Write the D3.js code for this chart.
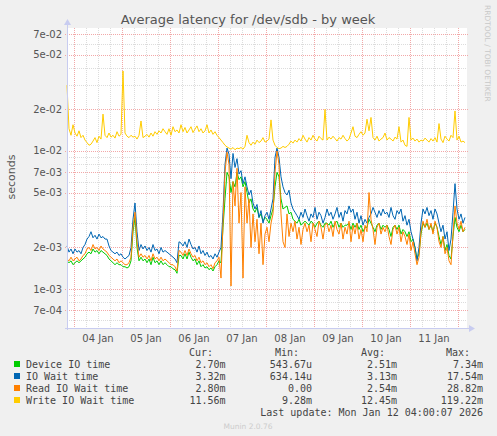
<!DOCTYPE html>
<html><head><meta charset="utf-8">
<script src="https://cdn.jsdelivr.net/npm/d3@7"></script>
<style>
html,body{margin:0;padding:0;background:#F0F0F0;}
svg{display:block;}
</style></head>
<body>
<script>
// ---------- data (milliseconds, one point per hour from 03 Jan 20:30 UTC) ----------
const startTime = Date.UTC(2026, 0, 3, 20, 30);
const endTime = Date.UTC(2026, 0, 12, 4, 30);

const deviceIoMs = [
1.6,1.55,1.6,1.5,1.55,1.6,1.55,1.6,1.65,1.7,
1.8,1.85,1.8,1.95,1.85,1.9,1.8,1.9,1.85,1.8,
1.75,1.65,1.6,1.55,1.5,1.55,1.5,1.5,1.45,1.45,
1.42,1.45,1.6,2.6,3.3,2.0,1.6,1.7,1.6,1.65,
1.55,1.65,1.5,1.7,1.55,1.6,1.5,1.6,1.5,1.55,
1.5,1.45,1.45,1.4,1.38,1.3,1.75,1.75,1.65,1.8,
1.65,1.85,1.7,1.6,1.65,1.5,1.6,1.45,1.5,1.42,
1.45,1.38,1.42,1.35,1.45,1.5,1.6,1.55,2.8,4.5,
7.0,6.5,5.0,6.0,5.5,7.0,6.2,6.5,5.5,6.0,
5.0,4.2,4.5,3.8,3.6,3.9,3.3,3.5,3.1,3.3,
3.2,3.0,3.4,3.8,5.5,7.0,6.5,4.5,3.8,3.9,
4.0,3.5,3.6,3.2,3.1,3.0,3.2,2.9,3.0,3.1,
3.0,2.9,3.1,3.0,2.8,3.0,3.1,2.9,2.8,3.0,
3.0,2.9,3.1,2.8,3.0,3.1,2.8,3.0,2.8,2.9,
2.9,3.0,2.7,3.0,2.8,3.0,2.7,2.9,2.6,2.8,
2.8,3.2,3.0,2.8,2.6,2.9,3.0,2.7,2.9,2.8,
2.9,2.7,2.4,2.8,2.9,2.7,2.9,2.5,2.7,2.6,
2.4,2.6,2.2,2.3,2.0,1.65,1.8,2.5,3.0,2.8,
3.0,2.7,2.9,2.6,3.0,2.8,2.4,2.1,2.4,1.9,
2.1,1.75,1.65,2.4,3.3,2.8,2.6,2.9,2.6,2.7];

const ioWaitMs = [
2.05,1.85,1.95,1.8,1.95,1.85,1.9,1.8,2.0,2.1,
2.3,2.4,2.6,2.35,2.45,2.3,2.5,2.35,2.4,2.3,
2.3,2.05,1.9,1.85,1.8,1.85,1.75,1.8,1.7,1.65,
1.7,1.75,2.0,3.2,4.2,2.6,1.9,2.1,1.95,2.05,
1.9,2.0,1.85,2.1,1.9,1.95,1.8,2.0,1.85,1.9,
1.85,1.8,1.75,1.7,1.65,1.55,2.2,2.15,2.05,2.2,
2.0,2.3,2.1,1.95,2.0,1.85,2.05,1.8,1.9,1.75,
1.85,1.7,1.75,1.65,1.8,1.7,1.85,2.0,3.6,8.0,
10.5,9.5,6.3,9.6,7.6,8.8,6.8,7.2,5.8,6.5,
5.5,4.8,5.2,4.2,3.8,4.1,3.3,3.7,3.0,3.4,
3.6,3.2,3.8,4.5,9.0,10.5,9.0,6.5,5.5,5.0,
4.8,5.2,4.2,3.8,3.6,3.4,3.2,3.6,3.3,3.8,
3.4,3.1,3.5,3.3,3.9,3.2,3.6,3.4,3.0,3.3,
3.8,3.4,3.6,3.2,3.5,3.9,3.3,3.6,3.1,3.7,
3.5,4.0,3.6,3.8,3.2,3.6,3.0,3.4,2.9,3.2,
3.0,3.3,3.5,3.9,3.6,3.3,3.7,3.4,3.8,3.5,
3.6,3.3,3.9,3.4,3.2,3.7,3.5,3.8,3.1,3.4,
2.9,3.2,2.6,2.3,2.0,1.6,2.0,3.0,3.8,3.5,
3.9,3.4,3.7,3.2,3.8,3.5,3.0,2.6,2.9,2.3,
2.6,1.9,2.3,3.6,5.8,3.8,3.2,3.5,3.0,3.3];

const readWaitMs = [
1.65,1.6,1.7,1.6,1.65,1.7,1.6,1.65,1.75,1.8,
1.95,2.0,1.9,2.1,1.95,2.0,1.9,2.05,1.95,1.9,
1.85,1.75,1.7,1.65,1.6,1.65,1.55,1.6,1.55,1.5,
1.5,1.55,1.7,2.8,3.6,2.2,1.7,1.8,1.7,1.75,
1.65,1.75,1.6,1.8,1.65,1.7,1.6,1.7,1.6,1.65,
1.6,1.55,1.5,1.5,1.45,1.35,1.9,1.85,1.75,1.9,
1.75,1.95,1.8,1.7,1.75,1.6,1.7,1.55,1.6,1.5,
1.55,1.45,1.5,1.4,1.55,1.6,1.7,1.2,3.0,7.0,
9.8,8.0,1.05,6.0,4.0,7.5,3.0,5.0,1.2,5.5,
3.0,4.5,2.0,3.5,2.2,3.2,1.8,3.0,1.5,2.5,
2.8,2.2,3.0,3.5,7.0,10.0,8.0,3.5,2.2,2.0,
3.5,2.4,3.0,2.6,3.1,2.3,2.8,2.1,2.7,3.0,
2.6,2.9,2.2,3.0,2.7,2.4,3.1,2.8,2.3,2.9,
3.0,2.6,2.9,2.4,3.1,2.7,2.5,3.0,2.3,2.8,
2.5,3.1,2.2,2.9,2.5,3.0,2.3,2.7,2.2,2.9,
2.6,5.0,3.2,2.7,2.1,2.8,3.0,2.5,2.8,2.6,
2.9,2.4,2.1,2.7,2.9,2.5,2.8,2.2,2.6,2.4,
2.1,2.5,1.9,2.2,1.8,1.5,1.7,2.6,3.1,2.8,
3.2,2.7,3.0,2.5,3.1,2.8,2.2,2.0,2.4,1.8,
2.0,1.6,1.5,2.5,4.0,3.0,2.7,3.1,2.6,2.8];

const writeWaitMs = [
30,14.5,13,15.5,13.5,12.8,14,12.5,13,12,
11.5,11,11.2,11.8,12.5,11.5,12.8,12.2,18.5,13,
12.5,13.5,12.6,13,12.4,13.8,12.8,13.2,38,13.5,
12.8,12.5,13,12.6,12.8,12.2,13,16.5,12.5,12.8,
13.2,12.6,13.5,12.8,13.8,13.2,14,13.5,14.5,13.8,
13.2,14.5,13,15,13.8,14.2,13.5,15.5,13.8,14.8,
13.5,14.2,15,13.6,14.4,15.2,13.8,14.5,13.5,14,
15.5,13.5,14.2,13.2,13.8,13,12.5,12,11.5,11,
10.7,10.5,10.3,10.6,10.2,10.5,10.4,10.6,10.3,10.8,
13,11.5,11,11.6,11.2,12,11.5,11.8,12.5,11.6,
11.8,12.2,16.8,12,11,10.6,10.4,10.5,10.8,10.6,
10.8,11.2,11.8,11.4,12,11.6,12.3,11.8,13,12.2,
11.6,12.5,12,13,12.2,11.8,12.8,12.3,12,20,
12,12.6,12.2,12.8,12.3,11.8,12.5,12.2,13,12.3,
11.8,12.2,13.5,15,12.8,12.5,13.2,13.8,13,13.5,
17,14,17.5,12.5,12,12.8,11.8,12.2,12.5,13.5,
12,12.5,12.2,11.8,12.6,12.2,15,11.6,12,11,
10.8,17.5,12,12.4,11.8,12.2,11.6,12,11.8,12.4,
12,11.6,12.3,11.8,12.5,11.6,15.8,12.2,11.5,12.8,
12.2,11.8,13,12.5,19.5,12,12.8,11.6,11.8,11.5];

const seriesNames = ["Device IO time", "IO Wait time", "Read IO Wait time", "Write IO Wait time"];
const seriesColors = ["#00CC00", "#0066B3", "#FF8000", "#FFCC00"];
const seriesData = [deviceIoMs, ioWaitMs, readWaitMs, writeWaitMs];
const statCur = ["2.70m", "3.32m", "2.80m", "11.56m"];
const statMin = ["543.67u", "634.14u", "0.00", "9.28m"];
const statAvg = ["2.51m", "3.13m", "2.54m", "12.45m"];
const statMax = ["7.34m", "17.54m", "28.82m", "119.22m"];

const yMajorTicks = [7e-4, 1e-3, 2e-3, 5e-3, 7e-3, 1e-2, 2e-2, 5e-2, 7e-2];
const yTickLabels = ["7e-04", "1e-03", "2e-03", "5e-03", "7e-03", "1e-02", "2e-02", "5e-02", "7e-02"];
const yMinorTicks = [6e-4, 8e-4, 9e-4, 3e-3, 4e-3, 6e-3, 8e-3, 9e-3, 3e-2, 4e-2, 6e-2];
const dayLabels = ["04 Jan", "05 Jan", "06 Jan", "07 Jan", "08 Jan", "09 Jan", "10 Jan", "11 Jan"];

const titleText = "Average latency for /dev/sdb - by week";
const yAxisLabel = "seconds";
const lastUpdate = "Last update: Mon Jan 12 04:00:07 2026";
const footer = "Munin 2.0.76";

// ---------- layout ----------
const W = 497, H = 436;
const L = 67, R = 467, T = 28, B = 328;

const svg = d3.select("body").append("svg").attr("width", W).attr("height", H);
svg.append("rect").attr("width", W).attr("height", H).attr("fill", "#F0F0F0");
svg.append("rect").attr("x", L).attr("y", T).attr("width", R - L).attr("height", B - T).attr("fill", "#FFFFFF");

const x = d3.scaleUtc().domain([startTime, endTime]).range([L, R]);
const y = d3.scaleLog().domain([5.217e-4, 0.07784]).range([B, T]);

const gGrid = svg.append("g").attr("shape-rendering", "crispEdges");
const sixHours = d3.utcHour.every(6).range(new Date(startTime), new Date(endTime));
const days = d3.utcDay.range(new Date(startTime), new Date(endTime));
const minorColor = "#DCDCDC", majorColor = "#F2A8A8";
gGrid.selectAll(".vmin").data(sixHours.filter(d => d.getUTCHours() !== 0)).join("line")
  .attr("x1", d => Math.round(x(d)) + 0.5).attr("x2", d => Math.round(x(d)) + 0.5)
  .attr("y1", T).attr("y2", B)
  .attr("stroke", minorColor).attr("stroke-dasharray", "1,1");
gGrid.selectAll(".hmin").data(yMinorTicks).join("line")
  .attr("x1", L).attr("x2", R)
  .attr("y1", d => Math.round(y(d)) + 0.5).attr("y2", d => Math.round(y(d)) + 0.5)
  .attr("stroke", minorColor).attr("stroke-dasharray", "1,1");
gGrid.selectAll(".vmaj").data(days).join("line")
  .attr("x1", d => Math.round(x(d)) + 0.5).attr("x2", d => Math.round(x(d)) + 0.5)
  .attr("y1", T).attr("y2", B + 2)
  .attr("stroke", majorColor).attr("stroke-dasharray", "1,1");
gGrid.selectAll(".hmaj").data(yMajorTicks).join("line")
  .attr("x1", L - 2).attr("x2", R + 2)
  .attr("y1", d => Math.round(y(d)) + 0.5).attr("y2", d => Math.round(y(d)) + 0.5)
  .attr("stroke", majorColor).attr("stroke-dasharray", "1,1");

// y tick labels
svg.append("g").selectAll("text").data(yMajorTicks).join("text")
  .attr("x", 62).attr("y", d => y(d) + 3.5)
  .attr("text-anchor", "end").attr("font-family", "DejaVu Sans").attr("font-size", 10)
  .attr("fill", "#555").text((d, i) => yTickLabels[i]);

// x day labels at noon
const noons = days.map(d => new Date(+d + 12 * 3600e3));
svg.append("g").selectAll("text").data(noons).join("text")
  .attr("x", d => x(d)).attr("y", B + 14)
  .attr("text-anchor", "middle").attr("font-family", "DejaVu Sans").attr("font-size", 10)
  .attr("fill", "#555").text((d, i) => dayLabels[i]);

// series lines
const line = d3.line()
  .x((d, i) => x(startTime + i * 3600e3))
  .y(d => y(d / 1000));
const gLines = svg.append("g");
seriesData.forEach((arr, k) => {
  gLines.append("path").datum(arr)
    .attr("d", line).attr("fill", "none")
    .attr("stroke", seriesColors[k]).attr("stroke-width", 1)
    .attr("stroke-linejoin", "round");
});

// axes
const axisColor = "#C8CCF0";
svg.append("line").attr("x1", L + 0.5).attr("x2", L + 0.5).attr("y1", T - 4).attr("y2", B + 2)
  .attr("stroke", axisColor).attr("stroke-width", 1);
svg.append("line").attr("x1", L - 2).attr("x2", R + 3).attr("y1", B + 0.5).attr("y2", B + 0.5)
  .attr("stroke", axisColor).attr("stroke-width", 1);
svg.append("path").attr("d", `M${L - 3},${T - 3} L${L + 0.5},${T - 9} L${L + 4},${T - 3} Z`).attr("fill", axisColor);
svg.append("path").attr("d", `M${R + 2},${B - 3} L${R + 8},${B + 0.5} L${R + 2},${B + 4} Z`).attr("fill", axisColor);

// title and labels
svg.append("text").attr("x", 248).attr("y", 24).attr("text-anchor", "middle")
  .attr("font-family", "DejaVu Sans").attr("font-size", 13).attr("fill", "#555").text(titleText);
svg.append("text").attr("transform", "translate(15,177) rotate(-90)").attr("text-anchor", "middle")
  .attr("font-family", "DejaVu Sans").attr("font-size", 11).attr("fill", "#555").text(yAxisLabel);
svg.append("text").attr("transform", "translate(485,5) rotate(90)").attr("text-anchor", "start")
  .attr("font-family", "DejaVu Sans").attr("font-size", 7.5).attr("fill", "#C8C8C8").text("RRDTOOL / TOBI OETIKER");

// legend
const mono = "DejaVu Sans Mono";
const headers = [["Cur:", 213], ["Min:", 299], ["Avg:", 385], ["Max:", 470]];
headers.forEach(h => {
  svg.append("text").attr("x", h[1]).attr("y", 356).attr("text-anchor", "end")
    .attr("font-family", mono).attr("font-size", 10).attr("fill", "#444").text(h[0]);
});
const valCols = [[statCur, 225.5], [statMin, 312], [statAvg, 397], [statMax, 483]];
seriesNames.forEach((name, k) => {
  const yy = 364 + k * 12;
  svg.append("rect").attr("x", 14).attr("y", yy - 3).attr("width", 6).attr("height", 6).attr("fill", seriesColors[k]);
  svg.append("text").attr("x", 26).attr("y", yy + 3.5)
    .attr("font-family", mono).attr("font-size", 10).attr("fill", "#444").text(name);
  valCols.forEach(c => {
    svg.append("text").attr("x", c[1]).attr("y", yy + 3.5).attr("text-anchor", "end")
      .attr("font-family", mono).attr("font-size", 10).attr("fill", "#444").text(c[0][k]);
  });
});
svg.append("text").attr("x", 483).attr("y", 415.5).attr("text-anchor", "end")
  .attr("font-family", mono).attr("font-size", 10).attr("fill", "#444").text(lastUpdate);
svg.append("text").attr("x", 248).attr("y", 428.5).attr("text-anchor", "middle")
  .attr("font-family", "DejaVu Sans").attr("font-size", 7.5).attr("fill", "#CCCCCC").text(footer);
</script>
</body></html>
